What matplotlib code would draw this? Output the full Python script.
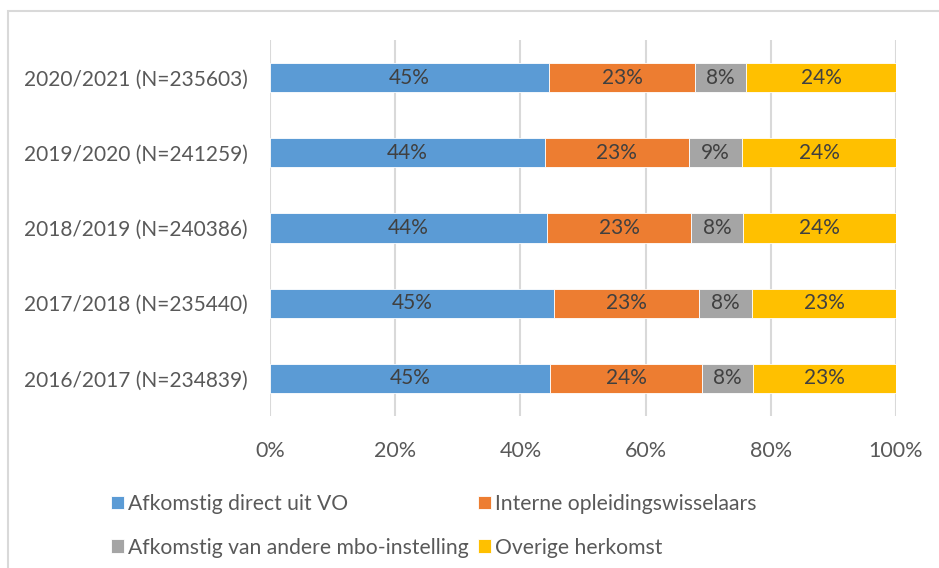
import matplotlib
matplotlib.use("Agg")
import matplotlib.pyplot as plt
from matplotlib.patches import Rectangle
import numpy as np

#====== DATA ======================================
years = ["2016/2017 (N=234839)", "2017/2018 (N=235440)", "2018/2019 (N=240386)",
         "2019/2020 (N=241259)", "2020/2021 (N=235603)"]
series_names = ["Afkomstig direct uit VO", "Interne opleidingswisselaars",
                "Afkomstig van andere mbo-instelling", "Overige herkomst"]
direct_vo = [44.8, 45.3, 44.3, 43.9, 44.6]
intern = [24.2, 23.3, 22.9, 23.0, 23.3]
ander_mbo = [8.2, 8.4, 8.4, 8.5, 8.2]
overig = [22.8, 23.0, 24.4, 24.6, 23.9]
labels_vo = ["45%", "45%", "44%", "44%", "45%"]
labels_intern = ["24%", "23%", "23%", "23%", "23%"]
labels_mbo = ["8%", "8%", "8%", "9%", "8%"]
labels_overig = ["23%", "23%", "24%", "24%", "24%"]
xticks = [0, 20, 40, 60, 80, 100]

colors = ["#5b9bd5", "#ed7d31", "#a5a5a5", "#ffc000"]
text_col = "#595959"

#====== PLOT ======================================
plt.rcParams["font.family"] = ["Lato", "DejaVu Sans"]

fig = plt.figure(figsize=(9.39, 5.68), dpi=100)
ax = fig.add_axes([270 / 939, 1 - 416 / 568, 626 / 939, 376 / 568])

y = np.arange(len(years))
left = np.zeros(len(years))
bars = []
all_values = [direct_vo, intern, ander_mbo, overig]
all_labels = [labels_vo, labels_intern, labels_mbo, labels_overig]
for vals, labs, col, name in zip(all_values, all_labels, colors, series_names):
    b = ax.barh(y, vals, left=left, height=0.39, color=col, label=name,
                edgecolor="white", linewidth=0.6, zorder=3)
    ax.bar_label(b, labels=labs, label_type="center", color="#404040", fontsize=15)
    bars.append(b)
    left = left + np.array(vals)

ax.set_xlim(0, 100)
ax.set_ylim(-0.5, len(years) - 0.5)
ax.set_yticks(y)
ax.set_yticklabels(years, fontsize=15, color=text_col)
ax.set_xticks(xticks)
ax.set_xticklabels([f"{t}%" for t in xticks], fontsize=15.5, color=text_col)
ax.tick_params(length=0, pad=16, axis="y")
ax.tick_params(length=0, pad=18, axis="x")
ax.grid(axis="x", color="#d9d9d9", linewidth=1.5, zorder=0)
for s in ax.spines.values():
    s.set_visible(False)

# legend: row order blue/orange, gray/yellow
handles = [bars[0], bars[2], bars[1], bars[3]]
names = [series_names[0], series_names[2], series_names[1], series_names[3]]
fig.legend(handles, names, ncol=2, loc="upper left", bbox_to_anchor=(92 / 939, 1 - 475 / 568),
           frameon=False, fontsize=15.2, labelcolor=text_col, handlelength=0.62, handleheight=0.62,
           handletextpad=0.2, columnspacing=0.4, labelspacing=1.12)

# chart border
fig.add_artist(Rectangle((8 / 939, -0.1), 1.2, 1 - 11 / 568 + 0.1, transform=fig.transFigure,
                         fill=False, edgecolor="#d9d9d9", linewidth=1.5))

fig.savefig("out.png", dpi=100)
